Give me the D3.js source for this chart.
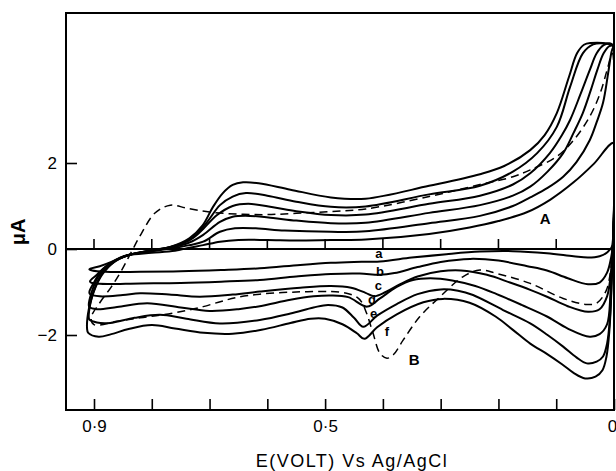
<!DOCTYPE html>
<html>
<head>
<meta charset="utf-8">
<script src="https://cdn.jsdelivr.net/npm/d3@7"></script>
<style>
  body { margin: 0; background: #fff; }
  svg { display: block; }
  text { font-family: "Liberation Sans", Arial, sans-serif; fill: #000; }
</style>
</head>
<body>
<svg id="chart" width="616" height="471"></svg>
<script>
// Cyclic voltammograms: current (µA) vs potential E (V vs Ag/AgCl).
// Each loop = anodic (upper) branch read left→right, cathodic (lower) branch read left→right.
// Points are [E (V), I (µA)].

const upperA = [[0.908,-0.47],[0.89,-0.4],[0.87,-0.3],[0.855,-0.2],[0.84,-0.14],[0.8,-0.09],[0.76,-0.04],[0.735,0.03],[0.711,0.09],[0.682,0.17],[0.65,0.21],[0.6,0.21],[0.55,0.2],[0.49,0.21],[0.43,0.22],[0.32,0.35],[0.25,0.5],[0.2,0.65],[0.15,0.86],[0.11,1.15],[0.07,1.55],[0.035,1.98],[0.0,2.47]];
const lowerA = [[0.903,-0.5],[0.88,-0.53],[0.82,-0.53],[0.75,-0.52],[0.68,-0.49],[0.613,-0.45],[0.543,-0.37],[0.49,-0.32],[0.45,-0.3],[0.405,-0.29],[0.35,-0.2],[0.29,-0.12],[0.232,-0.06],[0.175,-0.05],[0.116,-0.1],[0.07,-0.17],[0.045,-0.2],[0.025,-0.17],[0.012,-0.08],[0.002,0.1]];

const upperB = [[0.907,-0.75],[0.895,-0.6],[0.88,-0.41],[0.86,-0.24],[0.84,-0.14],[0.8,-0.05],[0.768,0.01],[0.735,0.09],[0.711,0.17],[0.682,0.4],[0.656,0.48],[0.62,0.48],[0.57,0.43],[0.49,0.4],[0.43,0.41],[0.32,0.6],[0.232,0.77],[0.175,1.0],[0.145,1.2],[0.115,1.42],[0.088,1.68],[0.065,2.02],[0.042,2.53],[0.03,2.95],[0.019,3.4],[0.01,4.1],[0.004,4.6],[0.001,4.7]];
const lowerB = [[0.905,-0.78],[0.89,-0.81],[0.82,-0.8],[0.75,-0.79],[0.68,-0.76],[0.613,-0.72],[0.55,-0.64],[0.49,-0.58],[0.44,-0.57],[0.405,-0.6],[0.38,-0.56],[0.34,-0.42],[0.3,-0.3],[0.249,-0.23],[0.2,-0.27],[0.15,-0.4],[0.116,-0.5],[0.08,-0.68],[0.045,-0.82],[0.025,-0.78],[0.012,-0.55],[0.005,-0.2],[0.002,0.1]];

const upperC = [[0.908,-1.0],[0.9,-0.78],[0.888,-0.52],[0.87,-0.32],[0.852,-0.2],[0.84,-0.14],[0.8,-0.04],[0.768,0.03],[0.735,0.15],[0.711,0.33],[0.682,0.63],[0.66,0.75],[0.63,0.77],[0.59,0.72],[0.55,0.66],[0.49,0.6],[0.43,0.61],[0.32,0.84],[0.232,1.02],[0.175,1.24],[0.145,1.45],[0.115,1.8],[0.088,2.23],[0.07,2.7],[0.054,3.16],[0.04,3.7],[0.029,4.16],[0.018,4.55],[0.008,4.72],[0.001,4.72]];
const lowerC = [[0.907,-1.05],[0.89,-1.1],[0.85,-1.07],[0.82,-1.03],[0.77,-1.06],[0.717,-1.11],[0.66,-1.06],[0.613,-0.99],[0.543,-0.9],[0.49,-0.86],[0.455,-0.9],[0.43,-1.02],[0.415,-1.1],[0.395,-1.0],[0.37,-0.82],[0.34,-0.64],[0.3,-0.52],[0.265,-0.5],[0.22,-0.6],[0.18,-0.78],[0.145,-0.95],[0.116,-1.11],[0.08,-1.33],[0.045,-1.46],[0.025,-1.4],[0.012,-1.1],[0.005,-0.5],[0.002,0.1]];

const upperD = [[0.909,-1.3],[0.904,-1.0],[0.893,-0.65],[0.876,-0.38],[0.856,-0.22],[0.84,-0.14],[0.8,-0.03],[0.768,0.04],[0.735,0.2],[0.716,0.4],[0.687,0.79],[0.66,1.0],[0.633,1.05],[0.59,0.97],[0.55,0.88],[0.49,0.79],[0.43,0.8],[0.32,1.05],[0.232,1.24],[0.175,1.5],[0.145,1.76],[0.111,2.23],[0.09,2.65],[0.076,3.0],[0.058,3.6],[0.042,4.16],[0.03,4.55],[0.018,4.74],[0.006,4.78],[0.001,4.72]];
const lowerD = [[0.908,-1.35],[0.895,-1.4],[0.86,-1.35],[0.808,-1.26],[0.75,-1.36],[0.7,-1.44],[0.65,-1.4],[0.613,-1.33],[0.56,-1.18],[0.52,-1.1],[0.49,-1.08],[0.46,-1.12],[0.427,-1.34],[0.405,-1.15],[0.376,-0.88],[0.348,-0.72],[0.318,-0.68],[0.28,-0.73],[0.24,-0.86],[0.203,-1.05],[0.16,-1.3],[0.116,-1.57],[0.08,-1.85],[0.042,-2.04],[0.025,-1.98],[0.012,-1.75],[0.006,-1.0],[0.002,0.1]];

const upperE = [[0.909,-1.6],[0.906,-1.25],[0.897,-0.85],[0.882,-0.5],[0.862,-0.27],[0.84,-0.14],[0.8,-0.03],[0.768,0.05],[0.745,0.15],[0.727,0.29],[0.704,0.63],[0.682,1.02],[0.66,1.22],[0.637,1.3],[0.6,1.24],[0.55,1.1],[0.49,0.98],[0.43,0.99],[0.32,1.27],[0.232,1.47],[0.175,1.8],[0.133,2.23],[0.099,2.84],[0.076,3.77],[0.054,4.55],[0.036,4.76],[0.015,4.78],[0.001,4.72]];
const lowerE = [[0.908,-1.64],[0.895,-1.71],[0.872,-1.72],[0.83,-1.6],[0.786,-1.53],[0.74,-1.62],[0.682,-1.73],[0.613,-1.65],[0.56,-1.5],[0.52,-1.36],[0.495,-1.3],[0.47,-1.36],[0.45,-1.6],[0.434,-1.81],[0.41,-1.55],[0.376,-1.28],[0.34,-1.05],[0.3,-0.94],[0.27,-0.97],[0.244,-1.07],[0.192,-1.42],[0.145,-1.73],[0.115,-2.0],[0.088,-2.27],[0.065,-2.52],[0.047,-2.66],[0.03,-2.62],[0.019,-2.5],[0.012,-2.2],[0.007,-1.6],[0.004,-0.6],[0.002,0.1]];

const upperF = [[0.912,-1.85],[0.909,-1.4],[0.9,-0.98],[0.886,-0.6],[0.865,-0.3],[0.84,-0.14],[0.8,-0.03],[0.768,0.05],[0.735,0.25],[0.712,0.55],[0.694,0.98],[0.677,1.3],[0.66,1.49],[0.642,1.55],[0.615,1.53],[0.56,1.38],[0.49,1.2],[0.43,1.17],[0.32,1.47],[0.232,1.74],[0.19,1.93],[0.145,2.3],[0.12,2.65],[0.099,3.16],[0.078,4.0],[0.064,4.55],[0.052,4.75],[0.04,4.79],[0.01,4.77],[0.001,4.72]];
const lowerF = [[0.91,-1.95],[0.892,-2.04],[0.87,-1.98],[0.84,-1.86],[0.8,-1.77],[0.76,-1.85],[0.71,-1.95],[0.66,-1.97],[0.61,-1.88],[0.56,-1.72],[0.525,-1.62],[0.5,-1.62],[0.47,-1.75],[0.445,-1.96],[0.432,-2.09],[0.41,-1.82],[0.376,-1.52],[0.33,-1.24],[0.296,-1.16],[0.25,-1.25],[0.205,-1.57],[0.175,-1.88],[0.145,-2.2],[0.115,-2.45],[0.09,-2.68],[0.07,-2.88],[0.05,-3.01],[0.032,-2.97],[0.02,-2.82],[0.013,-2.5],[0.008,-1.9],[0.004,-0.8],[0.002,0.1]];

// Dashed voltammogram (B)
const upperDash = [[0.905,-1.6],[0.89,-1.25],[0.87,-0.88],[0.852,-0.49],[0.835,-0.06],[0.818,0.36],[0.795,0.83],[0.768,1.02],[0.74,0.95],[0.7,0.86],[0.65,0.81],[0.6,0.8],[0.55,0.83],[0.49,0.87],[0.43,0.93],[0.32,1.22],[0.232,1.5],[0.175,1.68],[0.145,1.84],[0.099,2.15],[0.07,2.53],[0.042,3.08],[0.024,3.62],[0.012,4.16],[0.003,4.55]];
const lowerDash = [[0.9,-1.76],[0.86,-1.68],[0.82,-1.6],[0.78,-1.53],[0.74,-1.43],[0.711,-1.34],[0.68,-1.22],[0.654,-1.13],[0.613,-1.05],[0.55,-1.0],[0.49,-0.99],[0.463,-1.03],[0.445,-1.12],[0.437,-1.23],[0.428,-1.5],[0.417,-1.96],[0.405,-2.43],[0.393,-2.54],[0.382,-2.46],[0.365,-2.12],[0.336,-1.57],[0.301,-1.11],[0.261,-0.64],[0.232,-0.49],[0.203,-0.57],[0.145,-0.8],[0.088,-1.15],[0.047,-1.29],[0.03,-1.26],[0.013,-0.95],[0.004,-0.26],[0.002,0.05]];

// Axis ticks and labels
const xTicks = [0.9, 0.8, 0.7, 0.6, 0.5, 0.4, 0.3, 0.2, 0.1, 0];
const xTickLabels = { 0.9: "0·9", 0.5: "0·5", 0: "0" };
const yTicks = [2, 0, -2];
const yTickLabels = ["2", "0", "\u22122"];
const zeroLineTicks = [0.9, 0.8, 0.7, 0.6, 0.5, 0.4, 0.3, 0.2, 0.1];

// Curve labels, placed in data coordinates
const curveLabels = [
  { text: "a", E: 0.407, I: -0.11 },
  { text: "b", E: 0.405, I: -0.53 },
  { text: "c", E: 0.408, I: -0.86 },
  { text: "d", E: 0.419, I: -1.18 },
  { text: "e", E: 0.416, I: -1.51 },
  { text: "f", E: 0.393, I: -1.93 }
];
const seriesLabels = [
  { text: "A", E: 0.119, I: 0.72 },
  { text: "B", E: 0.346, I: -2.56 }
];

const loops = [
  { upper: upperA, lower: lowerA, dashed: false },
  { upper: upperB, lower: lowerB, dashed: false },
  { upper: upperC, lower: lowerC, dashed: false },
  { upper: upperD, lower: lowerD, dashed: false },
  { upper: upperE, lower: lowerE, dashed: false },
  { upper: upperF, lower: lowerF, dashed: false },
  { upper: upperDash, lower: lowerDash, dashed: true }
];

const svg = d3.select("#chart");
const frame = { left: 66, right: 614, top: 13, bottom: 410 };

const x = d3.scaleLinear().domain([0.9, 0]).range([94, 614]);
const y = d3.scaleLinear().domain([0, 2]).range([249, 163]);

svg.append("defs").append("clipPath").attr("id", "plotClip")
  .append("rect")
  .attr("x", frame.left).attr("y", frame.top)
  .attr("width", frame.right - frame.left).attr("height", frame.bottom - frame.top);

// Zero-current line with potential ticks
svg.append("line")
  .attr("x1", frame.left).attr("x2", frame.right)
  .attr("y1", y(0)).attr("y2", y(0))
  .attr("stroke", "#000").attr("stroke-width", 1.8);
svg.append("g").selectAll("line").data(zeroLineTicks).join("line")
  .attr("x1", d => x(d)).attr("x2", d => x(d))
  .attr("y1", y(0)).attr("y2", y(0) - 10)
  .attr("stroke", "#000").attr("stroke-width", 1.6);

// Voltammogram loops
const line = d3.line()
  .x(d => x(d[0]))
  .y(d => y(d[1]))
  .curve(d3.curveCatmullRomClosed.alpha(0.5));

svg.append("g").attr("clip-path", "url(#plotClip)")
  .selectAll("path").data(loops).join("path")
  .attr("d", d => line(d.upper.concat(d.lower.slice().reverse())))
  .attr("fill", "none")
  .attr("stroke", "#000")
  .attr("stroke-width", d => d.dashed ? 1.5 : 2)
  .attr("stroke-linejoin", "round")
  .attr("stroke-dasharray", d => d.dashed ? "8,5" : null);

// Bottom axis: ticks pointing into the plot
const xAxis = d3.axisBottom(x)
  .tickValues(xTicks)
  .tickSize(-11)
  .tickPadding(10)
  .tickFormat(d => xTickLabels[d] || "");
const gx = svg.append("g").attr("transform", `translate(0,${frame.bottom})`).call(xAxis);
gx.select(".domain").remove();
gx.selectAll(".tick line").attr("stroke", "#000").attr("stroke-width", 1.6);
gx.selectAll(".tick text")
  .attr("font-size", 17)
  .attr("font-family", "Liberation Sans, Arial, sans-serif")
  .attr("dx", d => d === 0 ? -2 : 0);

// Left axis: ticks pointing into the plot
const yAxis = d3.axisLeft(y)
  .tickValues(yTicks)
  .tickSize(-11)
  .tickPadding(9)
  .tickFormat((d, i) => yTickLabels[i]);
const gy = svg.append("g").attr("transform", `translate(${frame.left},0)`).call(yAxis);
gy.select(".domain").remove();
gy.selectAll(".tick line").attr("stroke", "#000").attr("stroke-width", 1.6);
gy.selectAll(".tick text")
  .attr("font-size", 17)
  .attr("font-family", "Liberation Sans, Arial, sans-serif");

// Frame
svg.append("rect")
  .attr("x", frame.left).attr("y", frame.top)
  .attr("width", frame.right - frame.left).attr("height", frame.bottom - frame.top)
  .attr("fill", "none").attr("stroke", "#000").attr("stroke-width", 2);

// Curve labels
svg.append("g").selectAll("text").data(curveLabels).join("text")
  .attr("x", d => x(d.E)).attr("y", d => y(d.I))
  .attr("text-anchor", "middle").attr("dominant-baseline", "central")
  .attr("font-size", 13).attr("font-weight", "bold")
  .text(d => d.text);
svg.append("g").selectAll("text").data(seriesLabels).join("text")
  .attr("x", d => x(d.E)).attr("y", d => y(d.I))
  .attr("text-anchor", "middle").attr("dominant-baseline", "central")
  .attr("font-size", 15).attr("font-weight", "bold")
  .text(d => d.text);

// Axis titles
svg.append("text")
  .attr("x", 352).attr("y", 467)
  .attr("text-anchor", "middle")
  .attr("font-size", 18)
  .attr("letter-spacing", 1.5)
  .text("E(VOLT) Vs Ag/AgCl");

svg.append("text")
  .attr("transform", "translate(25,232) rotate(-90)")
  .attr("text-anchor", "middle")
  .attr("font-size", 20)
  .attr("font-weight", "bold")
  .text("\u03bcA");
</script>
</body>
</html>
